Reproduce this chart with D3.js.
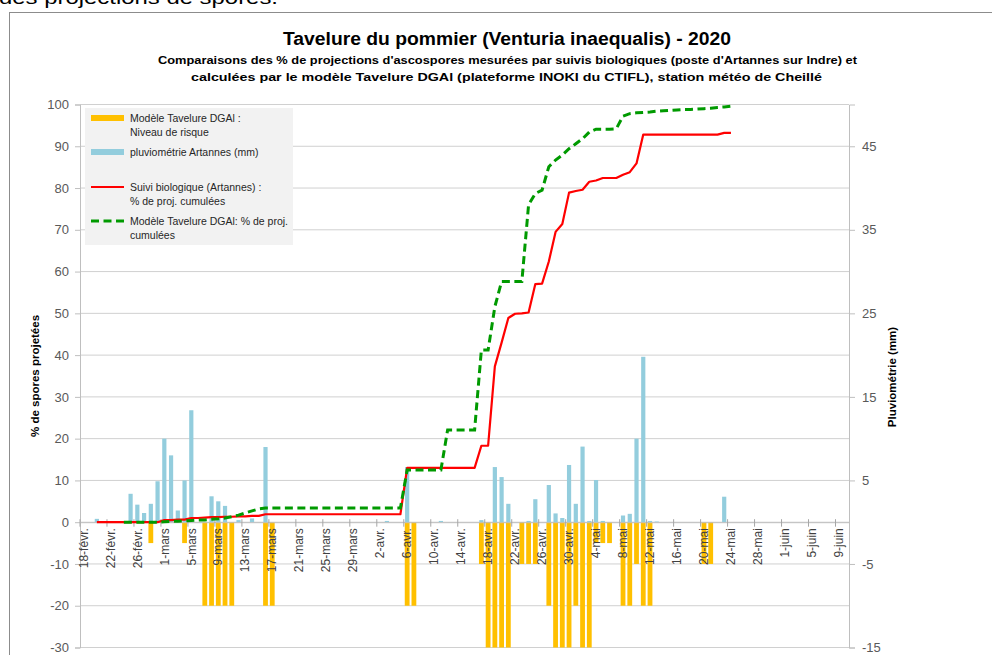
<!DOCTYPE html>
<html lang="fr">
<head>
<meta charset="UTF-8">
<title>Tavelure du pommier - 2020</title>
<script src="https://d3js.org/d3.v7.min.js"></script>
<style>
  body { margin: 0; background: #fff; }
  svg { display: block; font-family: "Liberation Sans", Arial, sans-serif; }
</style>
</head>
<body>
<div id="chart"></div>
<script>
// ---- data ----
const firstDay = "2020-02-18";
const lastDay = "2020-06-10";

const tickLabels = ["18-févr.", "22-févr.", "26-févr.", "1-mars", "5-mars", "9-mars", "13-mars",
  "17-mars", "21-mars", "25-mars", "29-mars", "2-avr.", "6-avr.", "10-avr.", "14-avr.", "18-avr.",
  "22-avr.", "26-avr.", "30-avr.", "4-mai", "8-mai", "12-mai", "16-mai", "20-mai", "24-mai",
  "28-mai", "1-juin", "5-juin", "9-juin"];

// pluviométrie Artannes (mm), secondary axis
const pluvioDays = ["2020-02-20", "2020-02-25", "2020-02-26", "2020-02-27", "2020-02-28", "2020-02-29",
  "2020-03-01", "2020-03-02", "2020-03-03", "2020-03-04", "2020-03-05", "2020-03-08", "2020-03-09",
  "2020-03-10", "2020-03-12", "2020-03-14", "2020-03-16", "2020-04-03", "2020-04-06", "2020-04-11",
  "2020-04-17", "2020-04-19", "2020-04-20", "2020-04-21", "2020-04-24", "2020-04-25", "2020-04-27",
  "2020-04-28", "2020-04-29", "2020-04-30", "2020-05-01", "2020-05-02", "2020-05-03", "2020-05-04",
  "2020-05-05", "2020-05-08", "2020-05-09", "2020-05-10", "2020-05-11", "2020-05-12", "2020-05-13",
  "2020-05-23"];
const pluvioMm = [0.4, 3.4, 2.1, 1.1, 2.2, 4.9,
  10.0, 8.0, 1.4, 5.0, 13.4, 3.1, 2.5,
  1.95, 0.25, 0.45, 9.0, 0.15, 6.6, 0.15,
  0.25, 6.6, 5.4, 2.2, 0.15, 2.75, 4.45,
  1.05, 0.5, 6.85, 2.2, 9.05, 0.15, 5.05,
  0.15, 0.8, 1.0, 10.0, 19.8, 0.15, 0.08,
  3.05];

// Modèle Tavelure DGAl : niveau de risque (primary axis, negative)
const risqueDays = ["2020-02-28", "2020-03-04", "2020-03-07", "2020-03-08", "2020-03-09", "2020-03-10",
  "2020-03-11", "2020-03-16", "2020-03-17", "2020-04-06", "2020-04-07", "2020-04-17", "2020-04-18",
  "2020-04-19", "2020-04-20", "2020-04-21", "2020-04-23", "2020-04-24", "2020-04-25", "2020-04-27",
  "2020-04-28", "2020-04-29", "2020-04-30", "2020-05-01", "2020-05-02", "2020-05-03", "2020-05-04",
  "2020-05-05", "2020-05-06", "2020-05-08", "2020-05-09", "2020-05-10", "2020-05-11", "2020-05-12",
  "2020-05-20", "2020-05-21"];
const risqueNiveau = [-5, -5, -20, -20, -20, -20,
  -20, -20, -20, -20, -20, -10, -30,
  -30, -30, -30, -10, -10, -10, -20,
  -30, -30, -30, -20, -30, -30, -5,
  -5, -5, -20, -20, -10, -20, -20,
  -10, -10];

// Suivi biologique (Artannes) : % de projections cumulées, one value per day
const suiviStart = "2020-02-20";
const suiviBio = [0, 0, 0, 0, 0, 0, 0, 0, 0, 0,
  0.5, 0.5, 0.6, 0.6, 1.0, 1.0, 1.1, 1.2, 1.2, 1.3, 1.3, 1.4, 1.4, 1.5, 1.5, 1.9,
  1.9, 1.9, 1.9, 1.9, 1.9, 1.9, 1.9, 1.9, 1.9, 1.9, 1.9, 1.9, 1.9, 1.9, 1.9, 1.9, 1.9, 1.9, 1.9, 1.9,
  13.0, 13.0, 13.0, 13.0, 13.0, 13.0, 13.0, 13.0, 13.0, 13.0, 13.0,
  18.3, 18.3, 37.3, 43.0, 48.9, 49.9, 50.0, 50.2, 57.0, 57.1, 62.4, 69.5, 71.4, 78.9, 79.3, 79.6,
  81.5, 81.8, 82.4, 82.4, 82.4, 83.2, 83.8, 85.9, 92.8,
  92.8, 92.8, 92.8, 92.8, 92.8, 92.8, 92.8, 92.8, 92.8, 92.8, 92.8,
  93.2, 93.2];

// Modèle Tavelure DGAl : % de projections cumulées, one value per day
const modeleStart = "2020-02-24";
const modeleCumul = [0, 0, 0, 0, 0, 0,
  0.1, 0.2, 0.25, 0.3, 0.4, 0.5, 0.55, 0.7, 0.8, 1.0, 1.3, 1.7, 2.2, 2.7, 3.2, 3.4,
  3.4, 3.4, 3.4, 3.4, 3.4, 3.4, 3.4, 3.4, 3.4, 3.4, 3.4, 3.4, 3.4, 3.4, 3.4, 3.4, 3.4, 3.4, 3.4, 3.4,
  12.5, 12.5, 12.5, 12.5, 12.5, 12.5,
  22.1, 22.1, 22.1, 22.1, 22.1,
  41.2, 41.2, 51.6, 57.6, 57.6, 57.6, 57.6, 76.0, 78.7, 79.5, 85.1, 86.7, 87.9, 89.4, 90.6, 91.8,
  93.4, 94.1, 94.1, 94.1, 94.2, 97.2, 97.8, 98.0, 98.1, 98.2, 98.4, 98.5, 98.6, 98.7, 98.8, 98.8,
  98.9, 99.0, 99.1, 99.3, 99.4, 99.6];

// ---- chart ----
const W = 992, H = 655;
const plot = { left: 80, right: 849, top: 104.5, bottom: 647.5 };
const axisGrey = "#595959";

const svg = d3.select("#chart").append("svg")
  .attr("width", W)
  .attr("height", H);

// text of the document above the chart (cut by the screenshot, as in the original)
svg.append("text")
  .attr("x", -1).attr("y", 4)
  .attr("font-size", 19)
  .attr("textLength", 279).attr("lengthAdjust", "spacingAndGlyphs")
  .text("des projections de spores.");

// chart frame
svg.append("rect")
  .attr("x", 9.5).attr("y", 12.5)
  .attr("width", 1000).attr("height", 700)
  .attr("fill", "#fff")
  .attr("stroke", "#8c8c8c");

const parseDate = d3.timeParse("%Y-%m-%d");
const dayKey = d3.timeFormat("%Y-%m-%d");
const days = d3.timeDay.range(parseDate(firstDay), d3.timeDay.offset(parseDate(lastDay), 1)).map(dayKey);
const tickDays = days.filter((d, i) => i % 4 === 0).slice(0, tickLabels.length);

const x = d3.scaleBand().domain(days).range([plot.left, plot.right]);
const y = d3.scaleLinear().domain([-30, 100]).range([plot.bottom, plot.top]);
const y2 = d3.scaleLinear().domain([-15, 50]).range([plot.bottom, plot.top]);

// gridlines
svg.append("g")
  .selectAll("line")
  .data(d3.range(-30, 101, 10))
  .join("line")
  .attr("x1", plot.left).attr("x2", plot.right)
  .attr("y1", d => y(d)).attr("y2", d => y(d))
  .attr("stroke", "#d0d0d0");

// left axis
const gLeft = svg.append("g")
  .attr("transform", `translate(${plot.left},0)`)
  .call(d3.axisLeft(y).tickValues(d3.range(-30, 101, 10)).tickFormat(d => String(d))
    .tickSize(5).tickPadding(6));
gLeft.selectAll("path, line").attr("stroke", "#bfbfbf");
gLeft.selectAll("text").attr("font-size", 13).attr("fill", axisGrey).attr("font-family", "Liberation Sans, Arial, sans-serif");

// right axis
const gRight = svg.append("g")
  .attr("transform", `translate(${plot.right},0)`)
  .call(d3.axisRight(y2).tickValues([-15, -5, 5, 15, 25, 35, 45]).tickFormat(d => String(d))
    .tickSize(6).tickPadding(7));
gRight.selectAll("path, line").attr("stroke", "#bfbfbf");
gRight.selectAll("text").attr("font-size", 13).attr("fill", axisGrey).attr("font-family", "Liberation Sans, Arial, sans-serif");

// risk level bars (primary axis)
const orangeW = 4.8;
svg.append("g")
  .selectAll("rect")
  .data(d3.zip(risqueDays, risqueNiveau))
  .join("rect")
  .attr("x", d => x(d[0]) + (x.bandwidth() - orangeW) / 2)
  .attr("width", orangeW)
  .attr("y", y(0))
  .attr("height", d => y(d[1]) - y(0))
  .attr("fill", "#FFC000");

// rainfall bars (secondary axis)
const blueW = 4.2;
svg.append("g")
  .selectAll("rect")
  .data(d3.zip(pluvioDays, pluvioMm))
  .join("rect")
  .attr("x", d => x(d[0]) + (x.bandwidth() - blueW) / 2)
  .attr("width", blueW)
  .attr("y", d => y2(d[1]))
  .attr("height", d => y2(0) - y2(d[1]))
  .attr("fill", "#93CDDD");

// category axis at zero
const gX = svg.append("g")
  .attr("transform", `translate(0,${y(0)})`)
  .call(d3.axisBottom(x).tickValues(tickDays).tickFormat((d, i) => tickLabels[i]).tickSize(0));
gX.select(".domain").attr("stroke", "#bfbfbf");
gX.selectAll("text")
  .attr("transform", "rotate(-90)")
  .attr("x", -6).attr("y", 0).attr("dy", "0.35em")
  .attr("text-anchor", "end")
  .attr("font-size", 12)
  .attr("fill", "#404040")
  .attr("font-family", "Liberation Sans, Arial, sans-serif");
svg.append("g")
  .selectAll("line")
  .data(tickDays)
  .join("line")
  .attr("x1", d => x(d)).attr("x2", d => x(d))
  .attr("y1", y(0) - 3).attr("y2", y(0) + 4.5)
  .attr("stroke", "#a6a6a6");

// cumulative lines
const seriesPoints = (start, values) => {
  const k0 = days.indexOf(start);
  return values.map((v, k) => [days[k0 + k], v]);
};
const line = d3.line()
  .x(d => x(d[0]) + x.bandwidth() / 2)
  .y(d => y(d[1]));

svg.append("path")
  .datum(seriesPoints(suiviStart, suiviBio))
  .attr("d", line)
  .attr("fill", "none")
  .attr("stroke", "#FF0000")
  .attr("stroke-width", 2.2)
  .attr("stroke-linejoin", "round");

svg.append("path")
  .datum(seriesPoints(modeleStart, modeleCumul))
  .attr("d", line)
  .attr("fill", "none")
  .attr("stroke", "#009A00")
  .attr("stroke-width", 3)
  .attr("stroke-dasharray", "8,4.5");

// titles
svg.append("text")
  .attr("x", 507).attr("y", 45)
  .attr("text-anchor", "middle")
  .attr("font-size", 18).attr("font-weight", "bold")
  .attr("textLength", 448).attr("lengthAdjust", "spacingAndGlyphs")
  .text("Tavelure du pommier (Venturia inaequalis) - 2020");
svg.append("text")
  .attr("x", 507.5).attr("y", 64)
  .attr("text-anchor", "middle")
  .attr("font-size", 11.5).attr("font-weight", "bold")
  .attr("textLength", 699).attr("lengthAdjust", "spacingAndGlyphs")
  .text("Comparaisons des % de projections d'ascospores mesurées par suivis biologiques (poste d'Artannes sur Indre) et");
svg.append("text")
  .attr("x", 506.5).attr("y", 81)
  .attr("text-anchor", "middle")
  .attr("font-size", 11.5).attr("font-weight", "bold")
  .attr("textLength", 631).attr("lengthAdjust", "spacingAndGlyphs")
  .text("calculées par le modèle Tavelure DGAl (plateforme INOKI du CTIFL), station météo de Cheillé");

// axis titles
svg.append("text")
  .attr("transform", "translate(39,376) rotate(-90)")
  .attr("text-anchor", "middle")
  .attr("font-size", 11.5).attr("font-weight", "bold")
  .text("% de spores projetées");
svg.append("text")
  .attr("transform", "translate(896,377) rotate(-90)")
  .attr("text-anchor", "middle")
  .attr("font-size", 11.5).attr("font-weight", "bold")
  .text("Pluviométrie (mm)");

// legend
const legend = svg.append("g");
legend.append("rect")
  .attr("x", 85).attr("y", 108)
  .attr("width", 208).attr("height", 137)
  .attr("fill", "#f2f2f2");

const legendItems = [
  { type: "bar", color: "#FFC000", y: 118, lines: ["Modèle Tavelure DGAl :", "Niveau de risque"] },
  { type: "bar", color: "#93CDDD", y: 152, lines: ["pluviométrie Artannes (mm)"] },
  { type: "line", color: "#FF0000", y: 187, lines: ["Suivi biologique (Artannes) :", "% de proj. cumulées"] },
  { type: "dash", color: "#009A00", y: 221, lines: ["Modèle Tavelure DGAl: % de proj.", "cumulées"] }
];
legendItems.forEach(it => {
  if (it.type === "bar") {
    legend.append("rect")
      .attr("x", 91).attr("y", it.y - 3).attr("width", 33).attr("height", 6)
      .attr("fill", it.color);
  } else {
    legend.append("line")
      .attr("x1", 91).attr("x2", 124).attr("y1", it.y).attr("y2", it.y)
      .attr("stroke", it.color)
      .attr("stroke-width", it.type === "dash" ? 3 : 2.2)
      .attr("stroke-dasharray", it.type === "dash" ? "8,4.5" : null);
  }
  it.lines.forEach((t, j) => {
    legend.append("text")
      .attr("x", 130).attr("y", it.y + j * 14.5).attr("dy", "0.35em")
      .attr("font-size", 10.5).attr("fill", "#262626")
      .text(t);
  });
});
</script>
</body>
</html>
